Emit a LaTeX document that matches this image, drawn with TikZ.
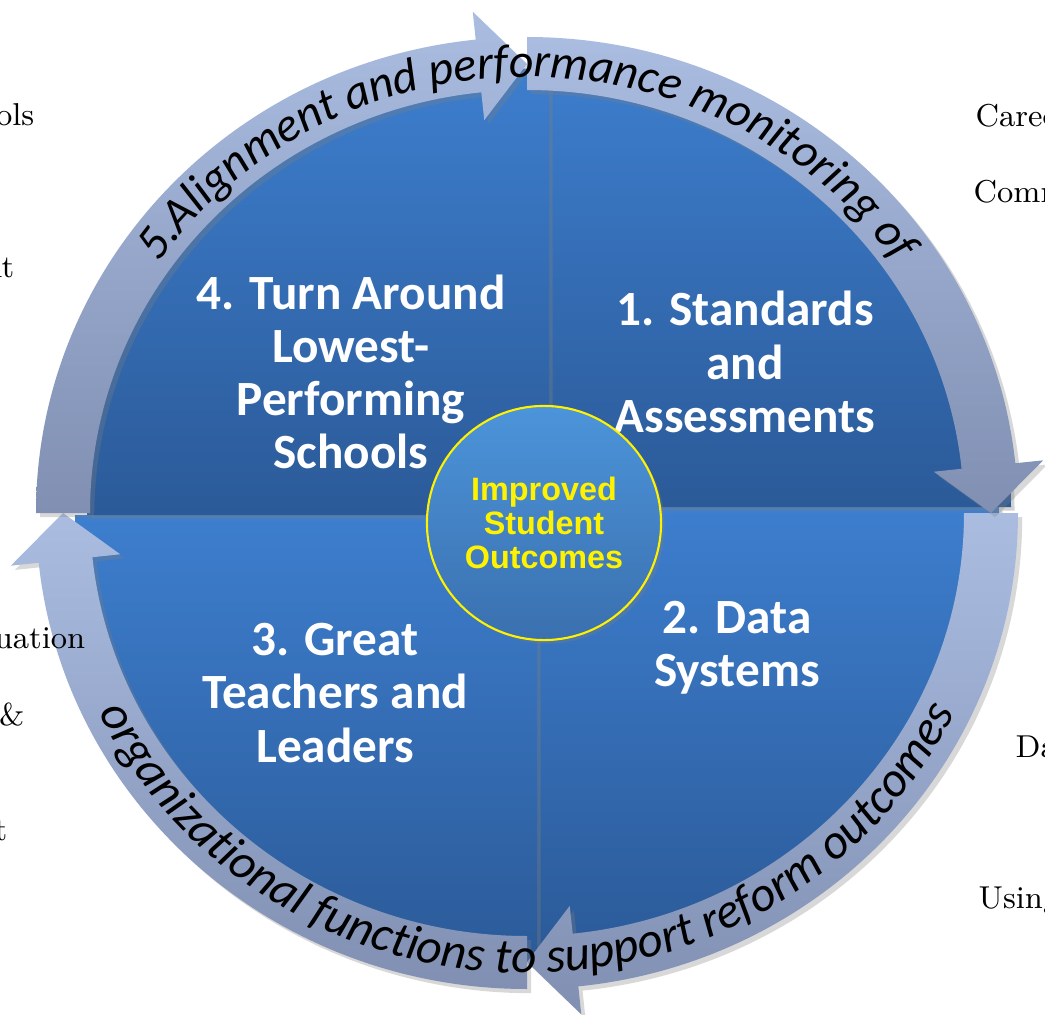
\documentclass[tikz,border=0pt]{standalone}
\usepackage{fontspec}
\newfontfamily\labelfont{Carlito}
\newfontfamily\hubfont{Liberation Sans}
\usetikzlibrary{decorations.text}
\usetikzlibrary{shadows}
\usetikzlibrary{positioning}

\definecolor{quadtop}{RGB}{61,126,206}
\definecolor{quadbot}{RGB}{43,90,152}
\definecolor{bandlight}{RGB}{170,189,225}
\definecolor{banddark}{RGB}{128,143,178}
\definecolor{hubtop}{RGB}{76,148,218}
\definecolor{hubbot}{RGB}{58,112,175}

\newcommand\toptextfont{\labelfont\itshape\fontsize{13.6}{14}\selectfont}
\newcommand\bottomtextfont{\labelfont\itshape\fontsize{14}{14}\selectfont}

\tikzset{
  quadrant/.style={top color=quadtop, bottom color=quadbot,
    drop shadow={shadow xshift=1pt, shadow yshift=-1pt, opacity=.35}},
  ringarrow/.style={top color=bandlight, bottom color=banddark,
    drop shadow={shadow xshift=1.2pt, shadow yshift=-1.2pt, opacity=.3}},
  steplabel/.style={text=white, align=center, inner sep=0pt,
    font=\labelfont\bfseries\fontsize{14}{15.1}\selectfont},
  hub/.style={circle, minimum size=2.34cm, inner sep=0pt, draw=yellow,
    line width=.6pt, top color=hubtop, bottom color=hubbot, text=yellow,
    align=center, font=\hubfont\bfseries\fontsize{9.2}{9.6}\selectfont,
    drop shadow={shadow xshift=1pt, shadow yshift=-1pt, opacity=.3}},
  sidetext/.style={inner sep=0pt, font=\fontsize{9}{11}\selectfont}
}

\begin{document}
\begin{tikzpicture}[x=0.01cm, y=0.01cm]
      \clip (0,0) rectangle (1045,1014);
      \fill[white] (0,0) rectangle (1045,1014);

      % the four quadrants
      \begin{scope}[shift={(527,501)}]
        \path[quadrant] (10,6) -- ++(0,-447)
          arc[start angle=270, end angle=360, x radius=462, y radius=447] -- cycle;
        \path[quadrant] (10,-2) -- ++(-462,0)
          arc[start angle=180, end angle=270, x radius=462, y radius=447] -- cycle;
        \path[quadrant] (22,6) -- ++(462,0)
          arc[start angle=0, end angle=90, x radius=462, y radius=447] -- cycle;
        \path[quadrant] (22,-2) -- ++(0,447)
          arc[start angle=90, end angle=180, x radius=462, y radius=447] -- cycle;

        % ring of arrows, clockwise
        \foreach \a in {-90,0,90,180} {
          \path[ringarrow] (\a:437 and 423) -- (\a:491 and 476)
            arc[start angle=\a, end angle=\a-84, x radius=491, y radius=476]
            -- ({\a-84}:519 and 504) -- ({\a-90}:464 and 449)
            -- ({\a-84}:409 and 395) -- ({\a-84}:437 and 423)
            arc[start angle=\a-84, end angle=\a, x radius=437, y radius=423]
            -- cycle;
        }

        % texts on the ring
        \path[decorate, decoration={text along path, text align=center,
            text={|\toptextfont|5.Alignment and performance monitoring of}}]
          (180:450 and 436) arc[start angle=180, end angle=0, x radius=450, y radius=436];
        \path[decorate, decoration={text along path, text align=center,
            text={|\bottomtextfont|organizational functions to support reform outcomes}}]
          (180:475 and 460) arc[start angle=180, end angle=360, x radius=475, y radius=460];
      \end{scope}

      \node[steplabel] (stepfour) at (351,642) {4. Turn Around\\Lowest-\\Performing\\Schools};
      \node[steplabel] (stepone) at (745,652) {1. Standards\\and\\Assessments};
      \node[steplabel] (steptwo) at (737,366) {2. Data\\Systems};
      \node[steplabel] (stepthree) at (335,321) {3. Great\\Teachers and\\Leaders};

      \node[hub] (hub) at (544,491) {Improved\\Student\\Outcomes};

      % slide text cut off at the edges
      \node[sidetext, anchor=base east] (leftone) at (35,889) {ols};
      \node[sidetext, anchor=base east] (lefttwo) at (15,737) {nt};
      \node[sidetext, anchor=base east] (leftthree) at (86,366) {uation};
      \node[sidetext, anchor=base east] (leftfour) at (25,289) {\&};
      \node[sidetext, anchor=base east] (leftfive) at (8,174) {t};
      \node[sidetext, anchor=base west] (rightone) at (975,888) {Caree};
      \node[sidetext, anchor=base west] (righttwo) at (973,812) {Comm};
      \node[sidetext, anchor=base west] (rightthree) at (1015,257) {Da};
      \node[sidetext, anchor=base west] (rightfour) at (978,106) {Using};
\end{tikzpicture}
\end{document}
